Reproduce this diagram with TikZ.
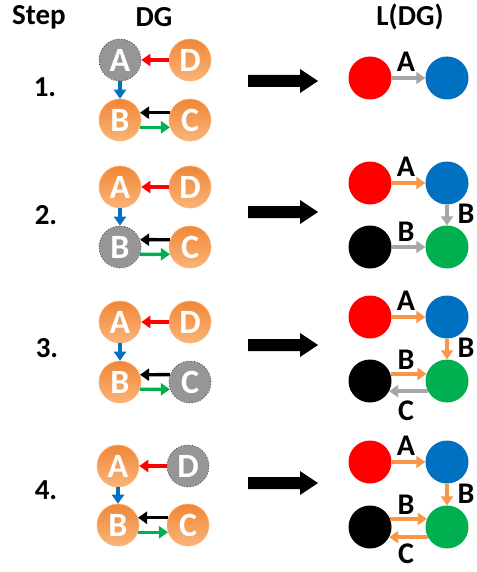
\documentclass[tikz,border=0pt]{standalone}
\usepackage{fontspec}
\setmainfont{Carlito}
\usetikzlibrary{arrows.meta}
\definecolor{orA}{RGB}{240,135,55}
\definecolor{orB}{RGB}{250,180,120}
\definecolor{orE}{RGB}{247,150,70}
\definecolor{grN}{RGB}{150,150,150}
\definecolor{grE}{RGB}{166,166,166}
\definecolor{rdN}{RGB}{255,0,0}
\definecolor{blN}{RGB}{0,112,192}
\definecolor{gnN}{RGB}{0,176,80}
\tikzset{
  dgnode/.style={circle,minimum size=42pt,inner sep=0pt,top color=orA,bottom color=orB,draw=orB,line width=0.6pt,text=white,font=\fontsize{34}{34}\selectfont\bfseries},
  gonenode/.style={circle,minimum size=42pt,inner sep=0pt,fill=grN,draw={rgb,255:red,70;green,70;blue,70},dotted,line width=0.8pt,text=white,font=\fontsize{34}{34}\selectfont\bfseries},
  lnode/.style={circle,minimum size=43pt,inner sep=0pt},
  dgedge/.style={line width=3.4pt,-{Triangle[length=9pt,width=12pt]}},
  ledge/.style={line width=3.6pt,-{Triangle[length=9pt,width=12pt]}},
  head/.style={font=\fontsize{29}{29}\selectfont\bfseries},
  stepno/.style={font=\fontsize{29}{29}\selectfont\bfseries},
  elab/.style={font=\fontsize{30}{30}\selectfont\bfseries},
  bigarrow/.style={fill=black},
}
\begin{document}
\begin{tikzpicture}[x=1pt,y=-1pt]
\useasboundingbox (0,0) rectangle (476,572);
% headers
\node[head] (hstep) at (39,17) {Step};
\node[head] (hdg) at (154,17) {DG};
\node[head] (hl) at (410,17) {L(DG)};
% step numbers
\node[stepno] (n1) at (45,87) {1.};
\node[stepno] (n2) at (46,215) {2.};
\node[stepno] (n3) at (47,348) {3.};
\node[stepno] (n4) at (46,490) {4.};

% ---------- Step 1 DG ----------
\node[gonenode] (A1) at (120,60) {A};
\node[dgnode] (D1) at (190,60) {D};
\node[dgnode] (B1) at (120,120) {B};
\node[dgnode] (C1) at (190,120) {C};
% ---------- Step 2 DG ----------
\node[dgnode] (A2) at (120,187) {A};
\node[dgnode] (D2) at (190,187) {D};
\node[gonenode] (B2) at (120,247) {B};
\node[dgnode] (C2) at (190,247) {C};
% ---------- Step 3 DG ----------
\node[dgnode] (A3) at (120,322) {A};
\node[dgnode] (D3) at (190,322) {D};
\node[dgnode] (B3) at (120,382) {B};
\node[gonenode] (C3) at (190,382) {C};
% ---------- Step 4 DG ----------
\node[dgnode] (A4) at (118,466) {A};
\node[gonenode] (D4) at (188,466) {D};
\node[dgnode] (B4) at (118,525) {B};
\node[dgnode] (C4) at (188,525) {C};

\foreach \i in {1,2,3,4}{
  \draw[dgedge,rdN] (D\i) -- (A\i);
  \draw[dgedge,blN] (A\i) -- (B\i);
  \draw[dgedge,black] (C\i.160) -- (B\i.20);
  \draw[dgedge,gnN] (B\i.-20) -- (C\i.200);
}

% big arrows
\fill[bigarrow] (248,75) -- (300,75) -- (300,69) -- (318,81) -- (300,93) -- (300,87) -- (248,87) -- cycle;
\fill[bigarrow] (248,206) -- (300,206) -- (300,200) -- (318,212) -- (300,224) -- (300,218) -- (248,218) -- cycle;
\fill[bigarrow] (248,339) -- (300,339) -- (300,333) -- (318,345) -- (300,357) -- (300,351) -- (248,351) -- cycle;
\fill[bigarrow] (248,477) -- (300,477) -- (300,471) -- (318,483) -- (300,495) -- (300,489) -- (248,489) -- cycle;

% ---------- Step 1 L(DG) ----------
\node[lnode,fill=rdN] (r1) at (370,78) {};
\node[lnode,fill=blN] (u1) at (447,78) {};
\draw[ledge,grE] (r1) -- (u1);
\node[elab] (la1) at (406,62) {A};

% ---------- Step 2 L(DG) ----------
\node[lnode,fill=rdN] (r2) at (370,183) {};
\node[lnode,fill=blN] (u2) at (447,183) {};
\node[lnode,fill=black] (k2) at (370,247) {};
\node[lnode,fill=gnN] (g2) at (447,247) {};
\draw[ledge,orE] (r2) -- (u2);
\draw[ledge,grE] (u2) -- (g2);
\draw[ledge,grE] (k2) -- (g2);
\node[elab] (la2) at (406,167) {A};
\node[elab] (lb2) at (466,214) {B};
\node[elab] (lc2) at (406,232) {B};

% ---------- Step 3 L(DG) ----------
\node[lnode,fill=rdN] (r3) at (370,317) {};
\node[lnode,fill=blN] (u3) at (447,317) {};
\node[lnode,fill=black] (k3) at (370,381) {};
\node[lnode,fill=gnN] (g3) at (447,381) {};
\draw[ledge,orE] (r3) -- (u3);
\draw[ledge,orE] (u3) -- (g3);
\draw[ledge,orE] (k3.19) -- (g3.161);
\draw[ledge,grE] (g3.208) -- (k3.-28);
\node[elab] (la3) at (406,301) {A};
\node[elab] (lb3) at (466,348) {B};
\node[elab] (lc3) at (406,360) {B};
\node[elab] (ld3) at (406,411) {C};

% ---------- Step 4 L(DG) ----------
\node[lnode,fill=rdN] (r4) at (370,462) {};
\node[lnode,fill=blN] (u4) at (447,462) {};
\node[lnode,fill=black] (k4) at (370,527) {};
\node[lnode,fill=gnN] (g4) at (447,527) {};
\draw[ledge,orE] (r4) -- (u4);
\draw[ledge,orE] (u4) -- (g4);
\draw[ledge,orE] (k4.22) -- (g4.158);
\draw[ledge,orE] (g4.208) -- (k4.-28);
\node[elab] (la4) at (406,446) {A};
\node[elab] (lb4) at (466,494) {B};
\node[elab] (lc4) at (406,505) {B};
\node[elab] (ld4) at (406,554) {C};
\end{tikzpicture}
\end{document}
